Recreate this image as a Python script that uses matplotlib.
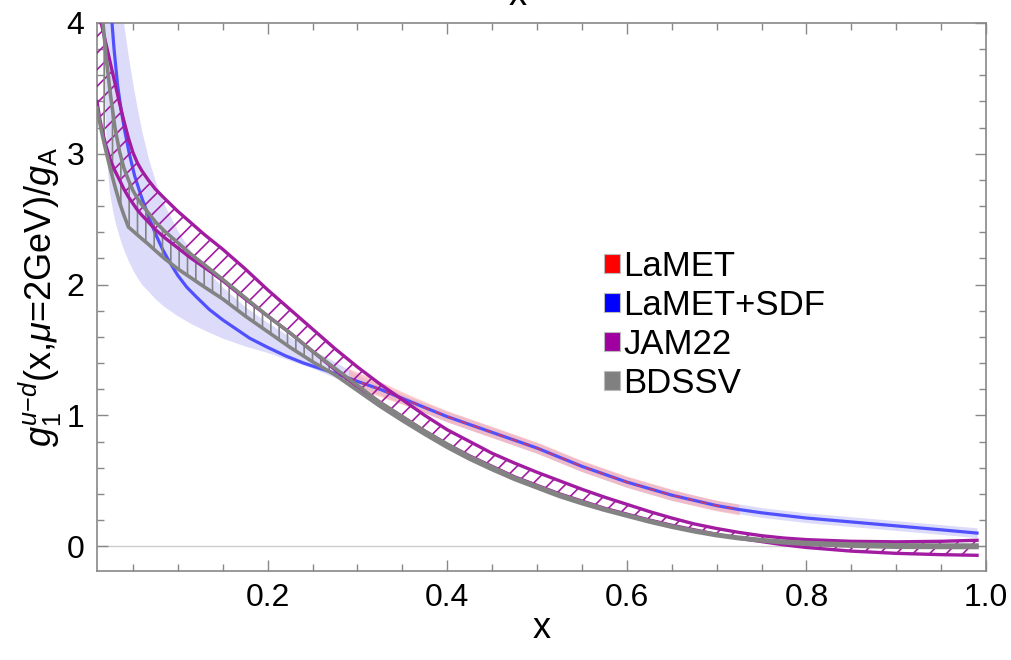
import matplotlib
matplotlib.use("Agg")
import matplotlib.pyplot as plt
from matplotlib.patches import Patch
from matplotlib.ticker import FixedLocator, MultipleLocator

plt.rcParams['font.family'] = ['Liberation Sans', 'DejaVu Sans']
plt.rcParams['mathtext.fontset'] = 'custom'
plt.rcParams['mathtext.rm'] = 'Liberation Sans'
plt.rcParams['mathtext.it'] = 'Liberation Sans:italic'
plt.rcParams['hatch.linewidth'] = 1.2

# ---------------- data ----------------
# LaMET+SDF central curve
sdf_x = [0.025, 0.029, 0.033, 0.037, 0.041, 0.046, 0.052, 0.059, 0.067, 0.075,
         0.083, 0.091, 0.10, 0.11, 0.12, 0.135, 0.15, 0.165, 0.18, 0.20,
         0.22, 0.24, 0.26, 0.28, 0.30, 0.325, 0.35, 0.375, 0.40, 0.425,
         0.45, 0.475, 0.50, 0.525, 0.55, 0.575, 0.60, 0.625, 0.65, 0.675,
         0.70, 0.725, 0.75, 0.80, 0.85, 0.90, 0.95, 0.99]
sdf_y = [4.15, 3.80, 3.52, 3.33, 3.17, 3.00, 2.83, 2.68, 2.53, 2.39,
         2.27, 2.17, 2.07, 1.98, 1.91, 1.81, 1.73, 1.66, 1.59, 1.52,
         1.455, 1.40, 1.355, 1.31, 1.26, 1.20, 1.13, 1.06, 0.99, 0.93,
         0.87, 0.81, 0.75, 0.68, 0.61, 0.55, 0.49, 0.44, 0.39, 0.35,
         0.31, 0.28, 0.255, 0.215, 0.185, 0.155, 0.125, 0.10]
# LaMET+SDF error band
sdf_band_x = [0.01, 0.014, 0.016, 0.018, 0.02, 0.022, 0.024, 0.027, 0.03, 0.035,
              0.04, 0.045, 0.05, 0.055, 0.06, 0.067, 0.075, 0.085, 0.10, 0.115,
              0.13, 0.15, 0.175, 0.20, 0.225, 0.25, 0.275, 0.30, 0.35, 0.40,
              0.45, 0.50, 0.55, 0.60, 0.65, 0.70, 0.75, 0.80, 0.85, 0.90,
              0.95, 0.99]
sdf_band_lo = [4.5, 4.5, 4.1, 3.5, 3.1, 2.85, 2.70, 2.58, 2.48, 2.36,
               2.26, 2.18, 2.11, 2.05, 2.00, 1.95, 1.89, 1.83, 1.76, 1.70,
               1.65, 1.59, 1.53, 1.48, 1.42, 1.36, 1.29, 1.225, 1.09, 0.95,
               0.83, 0.71, 0.57, 0.45, 0.35, 0.275, 0.22, 0.18, 0.15, 0.12,
               0.09, 0.065]
sdf_band_hi = [4.5, 4.5, 4.5, 4.5, 4.5, 4.5, 4.5, 4.5, 4.5, 4.25,
               3.98, 3.74, 3.53, 3.34, 3.17, 2.97, 2.79, 2.61, 2.41, 2.25,
               2.12, 1.98, 1.83, 1.71, 1.60, 1.50, 1.41, 1.31, 1.16, 1.03,
               0.91, 0.79, 0.65, 0.53, 0.43, 0.35, 0.295, 0.255, 0.225, 0.195,
               0.165, 0.14]

# LaMET (red)
lamet_x = [0.29, 0.30, 0.325, 0.35, 0.375, 0.40, 0.425, 0.45, 0.475, 0.50,
           0.525, 0.55, 0.575, 0.60, 0.625, 0.65, 0.675, 0.70, 0.725]
lamet_y = [1.285, 1.26, 1.20, 1.13, 1.06, 0.99, 0.93, 0.87, 0.81, 0.75,
           0.68, 0.61, 0.55, 0.49, 0.44, 0.39, 0.35, 0.31, 0.28]
lamet_lo = [1.22, 1.20, 1.145, 1.085, 1.02, 0.95, 0.89, 0.83, 0.77, 0.71,
            0.64, 0.57, 0.51, 0.45, 0.40, 0.35, 0.31, 0.27, 0.24]
lamet_hi = [1.36, 1.33, 1.26, 1.18, 1.105, 1.035, 0.975, 0.915, 0.855, 0.795,
            0.725, 0.655, 0.595, 0.535, 0.485, 0.435, 0.39, 0.35, 0.32]

# JAM22 band
jam_x = [0.01, 0.013, 0.016, 0.02, 0.025, 0.03, 0.035, 0.04, 0.045, 0.05,
         0.055, 0.06, 0.067, 0.075, 0.085, 0.10, 0.115, 0.13, 0.15, 0.175,
         0.20, 0.225, 0.25, 0.275, 0.30, 0.325, 0.35, 0.375, 0.40, 0.425,
         0.45, 0.475, 0.50, 0.525, 0.55, 0.575, 0.60, 0.625, 0.65, 0.675,
         0.70, 0.725, 0.75, 0.775, 0.80, 0.85, 0.90, 0.95, 0.99]
jam_hi = [4.40, 4.05, 3.96, 3.84, 3.69, 3.54, 3.39, 3.25, 3.12, 3.01,
          2.93, 2.87, 2.80, 2.73, 2.66, 2.56, 2.47, 2.38, 2.27, 2.12,
          1.96, 1.81, 1.66, 1.51, 1.37, 1.24, 1.12, 1.00, 0.89, 0.80,
          0.71, 0.635, 0.565, 0.50, 0.435, 0.375, 0.32, 0.265, 0.215, 0.17,
          0.135, 0.105, 0.08, 0.062, 0.05, 0.037, 0.033, 0.037, 0.045]
jam_lo = [3.40, 3.27, 3.17, 3.06, 2.95, 2.87, 2.80, 2.73, 2.67, 2.62,
          2.57, 2.53, 2.48, 2.42, 2.36, 2.28, 2.20, 2.13, 2.03, 1.89,
          1.76, 1.63, 1.49, 1.35, 1.22, 1.10, 0.99, 0.88, 0.78, 0.69,
          0.61, 0.53, 0.465, 0.40, 0.345, 0.29, 0.245, 0.20, 0.16, 0.125,
          0.09, 0.06, 0.035, 0.01, -0.01, -0.038, -0.055, -0.065, -0.07]

# BDSSV band
bd_x = [0.01, 0.013, 0.016, 0.02, 0.025, 0.03, 0.035, 0.04, 0.045, 0.05,
        0.055, 0.06, 0.067, 0.075, 0.085, 0.10, 0.115, 0.13, 0.15, 0.175,
        0.20, 0.225, 0.25, 0.275, 0.30, 0.325, 0.35, 0.375, 0.40, 0.425,
        0.45, 0.475, 0.50, 0.525, 0.55, 0.575, 0.60, 0.625, 0.65, 0.675,
        0.70, 0.725, 0.75, 0.775, 0.80, 0.85, 0.90, 0.95, 0.99]
bd_hi = [4.60, 4.30, 4.05, 3.75, 3.45, 3.20, 3.02, 2.89, 2.80, 2.72,
         2.66, 2.61, 2.55, 2.48, 2.41, 2.32, 2.23, 2.15, 2.04, 1.90,
         1.76, 1.63, 1.49, 1.36, 1.23, 1.10, 0.99, 0.88, 0.78, 0.685,
         0.605, 0.525, 0.46, 0.395, 0.34, 0.285, 0.24, 0.195, 0.155, 0.12,
         0.09, 0.068, 0.05, 0.037, 0.028, 0.016, 0.01, 0.008, 0.008]
bd_lo = [3.35, 3.24, 3.14, 3.02, 2.88, 2.75, 2.63, 2.53, 2.44, 2.41,
         2.38, 2.35, 2.31, 2.26, 2.20, 2.12, 2.05, 1.98, 1.89, 1.76,
         1.64, 1.52, 1.41, 1.31, 1.19, 1.07, 0.96, 0.855, 0.755, 0.665,
         0.585, 0.51, 0.445, 0.38, 0.325, 0.275, 0.23, 0.185, 0.145, 0.11,
         0.08, 0.057, 0.04, 0.025, 0.014, 0.0, -0.008, -0.01, -0.01]

legend_labels = ["LaMET", "LaMET+SDF", "JAM22", "BDSSV"]
legend_colors = ["#ff0000", "#0000ff", "#a000a0", "#808080"]

x_ticks = [0.2, 0.4, 0.6, 0.8, 1.0]
x_ticklabels = ["0.2", "0.4", "0.6", "0.8", "1.0"]
y_ticks = [0, 1, 2, 3, 4]

# ---------------- plot ----------------
MAG = "#a21ca2"
GRAY = "#838383"
BLUE = "#5050ff"

fig = plt.figure(figsize=(10.11, 6.60), dpi=100)
ax = fig.add_axes([97/1011, 1-571/660, (986-97)/1011, (571-23)/660])

ax.axhline(0, color="#cccccc", lw=1.0, zorder=1)

ax.fill_between(sdf_band_x, sdf_band_lo, sdf_band_hi, color="#dcdcfa", lw=0, zorder=2)
ax.fill_between(lamet_x, lamet_lo, lamet_hi, color="#ffa0a0", alpha=0.55, lw=0, zorder=3)
ax.plot(sdf_x, sdf_y, color=BLUE, lw=2.3, zorder=4)
ax.plot(lamet_x, lamet_y, color="#ff3030", lw=1.2, ls=(0, (4, 4)), alpha=0.7, zorder=5)

ax.fill_between(jam_x, jam_lo, jam_hi, facecolor="none", edgecolor=MAG,
                hatch="//", lw=0, zorder=6)
ax.fill_between(bd_x, bd_lo, bd_hi, facecolor="none", edgecolor=GRAY,
                hatch="||", lw=0, zorder=6)
ax.plot(jam_x, jam_hi, color=MAG, lw=2.4, zorder=7)
ax.plot(jam_x, jam_lo, color=MAG, lw=2.4, zorder=7)
ax.plot(bd_x, bd_hi, color=GRAY, lw=2.6, zorder=8)
ax.plot(bd_x, bd_lo, color=GRAY, lw=2.6, zorder=8)

ax.set_xlim(0.01, 1.0)
ax.set_ylim(-0.19, 4.0)

ax.xaxis.set_major_locator(FixedLocator(x_ticks))
ax.set_xticklabels(x_ticklabels)
ax.xaxis.set_minor_locator(MultipleLocator(0.05))
ax.yaxis.set_major_locator(FixedLocator(y_ticks))
ax.yaxis.set_minor_locator(MultipleLocator(0.2))

ax.tick_params(which="both", direction="in", top=True, right=True,
               color="#888888", width=1.0)
ax.tick_params(which="major", length=8, labelsize=23, pad=9)
ax.tick_params(which="minor", length=5)
for s in ax.spines.values():
    s.set_color("#888888")
    s.set_linewidth(1.2)

ax.set_xlabel("x", fontsize=26, labelpad=-2)
ax.set_ylabel(r"$g_1^{u\mathrm{-}d}$(x,$\mu$=2GeV)/$g_{\mathrm{A}}$", fontsize=26, labelpad=2)

fig.text(518/1011, 1 - 5/660, "x", fontsize=26, ha="center", va="baseline")

handles = [Patch(facecolor=c, edgecolor="#bbbbbb", lw=0.8) for c in legend_colors]
leg = ax.legend(handles, legend_labels, loc="upper left",
                bbox_to_anchor=((604-97)/889, (571-250)/548),
                frameon=False, fontsize=25, handlelength=0.45, handleheight=0.45,
                handletextpad=0.1, labelspacing=0.17, borderpad=0, borderaxespad=0)

fig.savefig("out.png", dpi=100)
